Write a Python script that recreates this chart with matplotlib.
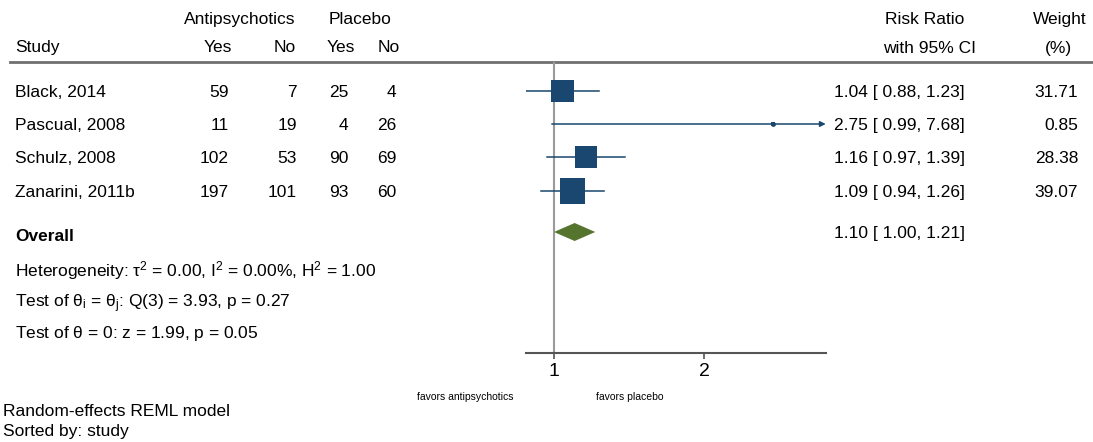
import numpy as np
import matplotlib.pyplot as plt
from matplotlib.ticker import FixedLocator, FixedFormatter, NullLocator

plt.rcParams['font.family'] = ['Liberation Sans', 'DejaVu Sans']
plt.rcParams['mathtext.fontset'] = 'custom'
plt.rcParams['mathtext.rm'] = 'Liberation Sans'
plt.rcParams['mathtext.it'] = 'Liberation Sans:italic'
plt.rcParams['mathtext.bf'] = 'Liberation Sans:bold'

# data
studies = ['Black, 2014', 'Pascual, 2008', 'Schulz, 2008', 'Zanarini, 2011b']
anti_yes = [59, 11, 102, 197]
anti_no = [7, 19, 53, 101]
plac_yes = [25, 4, 90, 93]
plac_no = [4, 26, 69, 60]
rr = [1.04, 2.75, 1.16, 1.09]
ci_lo = [0.88, 0.99, 0.97, 0.94]
ci_hi = [1.23, 7.68, 1.39, 1.26]
weight = [31.71, 0.85, 28.38, 39.07]
overall = (1.10, 1.00, 1.21)
ticks = [1, 2]

navy = '#1a476f'
green = '#55752f'

W, H = 1093, 442
fig = plt.figure(figsize=(W / 100, H / 100), dpi=100)

# background axes in pixel units for the table text
bg = fig.add_axes([0, 0, 1, 1])
bg.set_xlim(0, W)
bg.set_ylim(H, 0)
bg.axis('off')

row_y = [91, 124, 157, 191]
ov_y = 232
fs = 12.5

# forest panel, log scale
x_lo, x_hi = 0.88, 3.51
px1, scale = 554, 150
left_px = px1 + scale * np.log2(x_lo)
right_px = px1 + scale * np.log2(x_hi)
top_px, bot_px = 62, 353
ax = fig.add_axes([left_px / W, 1 - bot_px / H, (right_px - left_px) / W, (bot_px - top_px) / H])
ax.set_xscale('log')
ax.set_xlim(x_lo, x_hi)
ax.set_ylim(bot_px, top_px)
ax.patch.set_alpha(0)
for s in ['top', 'right', 'left']:
    ax.spines[s].set_visible(False)
ax.spines['bottom'].set_color('#555555')
ax.spines['bottom'].set_linewidth(1.5)
ax.set_yticks([])
ax.xaxis.set_major_locator(FixedLocator(ticks))
ax.xaxis.set_major_formatter(FixedFormatter([str(t) for t in ticks]))
ax.xaxis.set_minor_locator(NullLocator())
ax.tick_params(axis='x', length=4, width=1.2, color='#555555', labelsize=14, pad=3)

ax.axvline(1, color='#9a9a9a', lw=1.5, zorder=1)

for i in range(len(studies)):
    y = row_y[i]
    if ci_hi[i] > x_hi:
        ax.annotate('', xy=(x_hi, y), xytext=(ci_lo[i], y), annotation_clip=False,
                    arrowprops=dict(arrowstyle='-|>', color=navy, lw=1.1,
                                    mutation_scale=8, shrinkA=0, shrinkB=0))
    else:
        ax.plot([ci_lo[i], ci_hi[i]], [y, y], color=navy, lw=1.1, zorder=2)
ax.scatter(rr, row_y, s=8.63 * np.array(weight), marker='s', color=navy,
           linewidths=0, zorder=3)
ax.scatter(rr, row_y, s=12, marker='o', color=navy, linewidths=0, zorder=4)

est, lo, hi = overall
ax.fill([lo, est, hi, est], [ov_y, ov_y - 9, ov_y, ov_y + 9], color=green, lw=0, zorder=3)

# header
bg.plot([10, W], [62, 62], color='#707070', lw=2)
bg.text(240, 18, 'Antipsychotics', fontsize=fs, ha='center', va='center_baseline')
bg.text(360, 18, 'Placebo', fontsize=fs, ha='center', va='center_baseline')
bg.text(15, 46, 'Study', fontsize=fs, ha='left', va='center_baseline')
for xh, lab in zip([232, 296, 355, 400], ['Yes', 'No', 'Yes', 'No']):
    bg.text(xh, 46, lab, fontsize=fs, ha='right', va='center_baseline')
bg.text(925, 18, 'Risk Ratio', fontsize=fs, ha='center', va='center_baseline')
bg.text(930, 47, 'with 95% CI', fontsize=fs, ha='center', va='center_baseline')
bg.text(1060, 18, 'Weight', fontsize=fs, ha='center', va='center_baseline')
bg.text(1058, 47, '(%)', fontsize=fs, ha='center', va='center_baseline')

# study rows
for i in range(len(studies)):
    y = row_y[i]
    bg.text(15, y, studies[i], fontsize=fs, ha='left', va='center_baseline')
    bg.text(229, y, str(anti_yes[i]), fontsize=fs, ha='right', va='center_baseline')
    bg.text(297, y, str(anti_no[i]), fontsize=fs, ha='right', va='center_baseline')
    bg.text(348, y, str(plac_yes[i]), fontsize=fs, ha='right', va='center_baseline')
    bg.text(396, y, str(plac_no[i]), fontsize=fs, ha='right', va='center_baseline')
    bg.text(834, y, '{:.2f} [ {:.2f}, {:.2f}]'.format(rr[i], ci_lo[i], ci_hi[i]),
            fontsize=fs, ha='left', va='center_baseline')
    bg.text(1078, y, '{:.2f}'.format(weight[i]), fontsize=fs, ha='right', va='center_baseline')

bg.text(15, 235, 'Overall', fontsize=fs, fontweight='bold', ha='left', va='center_baseline')
bg.text(834, ov_y, '{:.2f} [ {:.2f}, {:.2f}]'.format(est, lo, hi),
        fontsize=fs, ha='left', va='center_baseline')
bg.text(15, 268, r'Heterogeneity: $\mathrm{\tau}^2$ = 0.00, I$^2$ = 0.00%, H$^2$ = 1.00',
        fontsize=fs, ha='left', va='center_baseline')
bg.text(15, 300, r'Test of $\mathrm{\theta_i}$ = $\mathrm{\theta_j}$: Q(3) = 3.93, p = 0.27',
        fontsize=fs, ha='left', va='center_baseline')
bg.text(15, 331, r'Test of $\mathrm{\theta}$ = 0: z = 1.99, p = 0.05',
        fontsize=fs, ha='left', va='center_baseline')

bg.text(465, 396, 'favors antipsychotics', fontsize=7.5, ha='center', va='center_baseline')
bg.text(630, 396, 'favors placebo', fontsize=7.5, ha='center', va='center_baseline')

bg.text(3, 410, 'Random-effects REML model', fontsize=fs, ha='left', va='center_baseline')
bg.text(3, 430, 'Sorted by: study', fontsize=fs, ha='left', va='center_baseline')

fig.savefig('out.png', dpi=100)
